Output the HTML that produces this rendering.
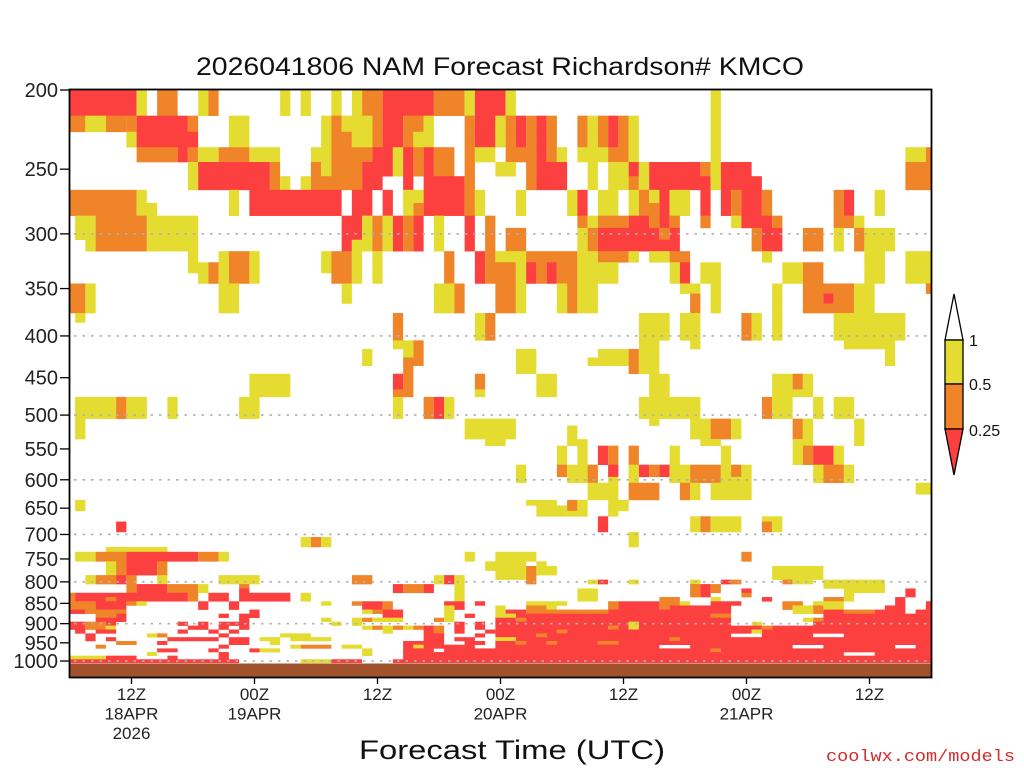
<!DOCTYPE html>
<html><head><meta charset="utf-8"><title>NAM Richardson# KMCO</title>
<style>html,body{margin:0;padding:0;background:#fff;}svg{display:block;font-family:"Liberation Sans",sans-serif;}</style></head>
<body>
<svg id="chart" width="1024" height="768" viewBox="0 0 1024 768" xmlns="http://www.w3.org/2000/svg">
<rect x="0" y="0" width="1024" height="768" fill="#fff"/>
<text x="500" y="75" font-size="25" textLength="608" lengthAdjust="spacingAndGlyphs" text-anchor="middle" fill="#111">2026041806 NAM Forecast Richardson# KMCO</text>
<g id="cells"></g>
<g id="grid"></g>
<g id="axes"></g>
<text x="512" y="759" font-size="27" textLength="306" lengthAdjust="spacingAndGlyphs" text-anchor="middle" fill="#111">Forecast Time (UTC)</text>
<text x="1015" y="761" font-size="17" textLength="189" lengthAdjust="spacingAndGlyphs" text-anchor="end" fill="#d62b2b" font-family="Liberation Mono, monospace">coolwx.com/models</text>
<g>
<polygon points="945,340 954,294 963,340" fill="#fff" stroke="#000" stroke-width="1.3"/>
<rect x="945" y="340" width="18" height="44" fill="#e5dc31" stroke="#000" stroke-width="1.3"/>
<rect x="945" y="384" width="18" height="45" fill="#ef8428" stroke="#000" stroke-width="1.3"/>
<polygon points="945,429 963,429 954,475" fill="#fc3f3f" stroke="#000" stroke-width="1.3"/>
<text x="969" y="346" font-size="16" fill="#111">1</text>
<text x="969" y="390" font-size="16" fill="#111">0.5</text>
<text x="969" y="436" font-size="16" fill="#111">0.25</text>
</g>
</svg>
<script>
// ---- data ----
const startHour = 6;           // first column = 06Z 18APR
const numCols = 85;            // hourly columns
const yTickLabels = [200,250,300,350,400,450,500,550,600,650,700,750,800,850,900,950,1000];
const gridLevels = [300,400,500,600,700,800,900,1000];
const xTickHours = [12,24,36,48,60,72,84];
const xTickLine1 = ["12Z","00Z","12Z","00Z","12Z","00Z","12Z"];
const xTickLine2 = ["18APR","19APR","","20APR","","21APR",""];
const xTickLine3 = ["2026","","","","","",""];
// rows: [pressure, [[colStart, colEnd, Ri], ...]]
const rows = [
[200,[[0,6,.1],[7,7,.7],[9,10,.35],[13,13,.7],[14,14,.35],[21,21,.7],[23,23,.7],[26,26,.7],[28,28,.7],[29,30,.35],[31,35,.1],[36,38,.35],[39,39,.7],[40,42,.1],[43,43,.7],[63,63,.7]]],
[210,[[0,6,.1],[7,7,.7],[9,10,.35],[13,13,.7],[14,14,.35],[21,21,.7],[23,23,.7],[26,26,.7],[28,28,.7],[29,30,.35],[31,35,.1],[36,38,.35],[39,39,.7],[40,42,.1],[43,43,.7],[63,63,.7]]],
[220,[[0,1,.35],[2,3,.7],[4,5,.35],[6,6,.35],[7,11,.1],[12,12,.35],[16,17,.7],[25,25,.7],[26,26,.35],[27,29,.7],[30,30,.35],[31,32,.1],[33,34,.35],[35,35,.7],[39,39,.35],[40,41,.1],[42,42,.7],[43,43,.35],[44,44,.1],[45,45,.35],[46,46,.1],[47,47,.35],[50,50,.35],[51,51,.7],[52,52,.35],[53,53,.1],[54,54,.35],[55,55,.7],[63,63,.7]]],
[230,[[6,6,.7],[7,12,.1],[16,17,.7],[25,25,.7],[26,27,.35],[28,29,.7],[30,30,.35],[31,32,.1],[33,33,.35],[34,35,.7],[39,39,.35],[40,41,.1],[42,42,.7],[43,43,.35],[44,44,.1],[45,45,.35],[46,46,.1],[47,47,.35],[50,50,.35],[51,51,.7],[52,52,.35],[53,53,.1],[54,54,.35],[55,55,.7],[63,63,.7]]],
[240,[[7,10,.35],[11,11,.1],[12,12,.35],[13,14,.7],[15,17,.35],[18,20,.7],[24,25,.7],[26,29,.35],[30,31,.1],[32,32,.7],[33,33,.1],[34,34,.35],[35,35,.1],[36,37,.35],[39,39,.35],[40,41,.7],[43,45,.35],[46,46,.1],[47,47,.35],[48,48,.7],[50,52,.7],[53,54,.35],[55,55,.7],[63,63,.7],[82,83,.7],[84,84,.35]]],
[250,[[12,12,.7],[13,19,.1],[20,20,.35],[24,24,.35],[25,25,.7],[26,28,.35],[29,31,.1],[32,32,.7],[33,33,.1],[34,34,.35],[35,35,.1],[36,37,.35],[39,39,.35],[42,43,.7],[45,45,.35],[46,48,.1],[51,51,.7],[53,54,.7],[55,55,.1],[56,56,.7],[57,61,.1],[62,62,.35],[63,63,.7],[64,66,.1],[82,84,.35]]],
[260,[[12,12,.7],[13,19,.1],[20,20,.35],[21,21,.7],[23,23,.7],[24,28,.35],[29,30,.1],[33,33,.1],[35,38,.1],[39,39,.35],[45,45,.35],[46,48,.1],[51,51,.7],[53,54,.7],[55,55,.35],[56,56,.7],[57,62,.1],[63,63,.7],[64,67,.1],[82,84,.35]]],
[270,[[0,6,.35],[7,7,.7],[16,16,.7],[18,26,.1],[28,29,.1],[31,31,.1],[33,34,.7],[35,38,.1],[39,39,.35],[40,40,.7],[44,44,.7],[49,49,.7],[50,50,.1],[52,53,.7],[55,55,.7],[56,56,.35],[57,57,.7],[58,58,.1],[59,60,.7],[62,62,.1],[64,64,.1],[65,65,.35],[66,67,.1],[68,68,.35],[75,75,.35],[76,76,.1],[79,79,.7]]],
[280,[[0,6,.35],[7,8,.7],[16,16,.7],[18,26,.1],[28,29,.1],[31,31,.1],[33,33,.7],[34,34,.35],[35,38,.1],[39,39,.35],[40,40,.7],[44,44,.7],[49,49,.7],[50,50,.1],[52,53,.7],[55,55,.7],[56,57,.35],[58,58,.1],[59,60,.7],[62,62,.1],[64,64,.1],[65,65,.35],[66,67,.1],[68,68,.35],[75,75,.35],[76,76,.1],[79,79,.7]]],
[290,[[1,2,.7],[3,7,.35],[8,12,.7],[27,28,.1],[29,29,.7],[30,30,.35],[31,31,.7],[32,32,.1],[33,33,.35],[34,34,.1],[36,36,.7],[39,39,.1],[41,41,.35],[50,50,.35],[51,51,.7],[52,54,.35],[55,56,.1],[57,57,.35],[58,58,.1],[59,59,.35],[62,62,.35],[65,65,.7],[66,68,.1],[69,69,.35],[75,76,.35],[77,77,.7]]],
[300,[[1,2,.7],[3,7,.35],[8,12,.7],[27,28,.1],[29,29,.7],[30,30,.35],[31,31,.7],[32,32,.1],[33,33,.35],[34,34,.1],[36,36,.7],[39,39,.1],[41,41,.35],[43,44,.35],[50,50,.7],[51,51,.35],[52,57,.1],[58,58,.35],[59,59,.1],[67,67,.35],[68,69,.1],[72,73,.35],[75,75,.7],[77,77,.35],[78,80,.7]]],
[310,[[2,2,.7],[3,7,.35],[8,12,.7],[27,27,.1],[28,29,.7],[30,30,.35],[31,31,.7],[32,32,.1],[33,33,.35],[34,34,.1],[36,36,.7],[39,39,.1],[41,41,.35],[43,44,.35],[50,50,.7],[51,51,.35],[52,59,.1],[67,67,.35],[68,69,.1],[72,73,.35],[75,75,.7],[77,77,.35],[78,80,.7]]],
[320,[[12,12,.7],[15,15,.7],[16,17,.35],[18,18,.7],[25,25,.7],[26,27,.35],[28,28,.7],[30,30,.7],[37,37,.35],[40,40,.1],[41,41,.35],[42,44,.7],[45,49,.35],[50,51,.7],[52,54,.35],[55,55,.7],[57,58,.7],[59,60,.35],[68,68,.7],[78,79,.7],[82,84,.7]]],
[330,[[12,13,.7],[14,14,.35],[15,15,.7],[16,17,.35],[18,18,.7],[25,25,.7],[26,27,.35],[28,28,.7],[30,30,.7],[37,37,.35],[40,40,.1],[41,43,.35],[44,44,.7],[45,45,.1],[46,46,.35],[47,47,.1],[48,49,.35],[50,53,.7],[59,59,.7],[60,60,.1],[62,63,.7],[70,71,.7],[72,73,.35],[78,79,.7],[82,84,.7]]],
[340,[[13,13,.7],[14,14,.35],[15,15,.7],[16,17,.35],[18,18,.7],[26,27,.35],[28,28,.7],[30,30,.7],[37,37,.35],[40,40,.1],[41,43,.35],[44,44,.7],[45,45,.1],[46,46,.35],[47,47,.1],[48,49,.35],[50,53,.7],[59,59,.7],[60,60,.1],[62,63,.7],[70,71,.7],[72,73,.35],[78,79,.7],[82,84,.7]]],
[350,[[0,1,.35],[2,2,.7],[15,16,.7],[27,27,.7],[36,37,.7],[38,38,.35],[42,43,.35],[44,44,.7],[48,48,.7],[49,49,.35],[50,51,.7],[60,61,.7],[63,63,.7],[69,69,.7],[72,76,.35],[77,78,.7],[84,84,.35]]],
[360,[[0,1,.35],[2,2,.7],[15,16,.7],[27,27,.7],[36,37,.7],[38,38,.35],[42,43,.35],[44,44,.7],[48,48,.7],[49,49,.35],[50,51,.7],[61,61,.35],[63,63,.7],[69,69,.7],[72,73,.35],[74,74,.1],[75,76,.35],[77,78,.7]]],
[370,[[0,1,.35],[2,2,.7],[15,16,.7],[36,37,.7],[38,38,.35],[42,43,.35],[44,44,.7],[48,48,.7],[49,49,.35],[50,51,.7],[61,61,.35],[63,63,.7],[69,69,.7],[72,76,.35],[77,78,.7]]],
[380,[[1,1,.7],[32,32,.35],[40,40,.7],[41,41,.35],[56,58,.7],[60,61,.7],[66,66,.35],[67,67,.7],[69,69,.7],[75,81,.7]]],
[390,[[32,32,.35],[40,40,.7],[41,41,.35],[56,58,.7],[60,61,.7],[66,66,.35],[67,67,.7],[69,69,.7],[75,81,.7]]],
[400,[[32,32,.35],[40,40,.7],[41,41,.35],[56,58,.7],[60,61,.7],[66,66,.35],[67,67,.7],[69,69,.7],[75,81,.7]]],
[410,[[32,33,.7],[34,34,.35],[56,57,.7],[61,61,.7],[76,80,.7]]],
[420,[[29,29,.7],[33,33,.7],[34,34,.35],[44,45,.7],[52,54,.7],[55,55,.35],[56,57,.7],[80,80,.7]]],
[430,[[29,29,.7],[33,34,.35],[44,45,.7],[51,54,.7],[55,55,.35],[56,57,.7],[80,80,.7]]],
[440,[[33,33,.35],[44,45,.7],[55,55,.35],[56,57,.7]]],
[450,[[18,21,.7],[32,32,.1],[33,33,.35],[40,40,.35],[46,47,.7],[57,58,.7],[69,70,.7],[71,71,.35],[72,72,.7]]],
[460,[[18,21,.7],[32,32,.1],[33,33,.35],[40,40,.35],[46,47,.7],[57,58,.7],[69,70,.7],[71,71,.35],[72,72,.7]]],
[470,[[18,21,.7],[32,33,.35],[40,40,.7],[46,47,.7],[57,58,.7],[69,72,.7]]],
[480,[[1,4,.7],[5,5,.35],[6,7,.7],[10,10,.7],[17,18,.7],[32,32,.7],[35,35,.35],[36,36,.1],[37,37,.7],[56,61,.7],[68,68,.35],[69,70,.7],[73,73,.7],[75,76,.7]]],
[490,[[1,4,.7],[5,5,.35],[6,7,.7],[10,10,.7],[17,18,.7],[32,32,.7],[35,35,.35],[36,36,.1],[37,37,.7],[56,61,.7],[68,68,.35],[69,70,.7],[73,73,.7],[75,76,.7]]],
[500,[[1,4,.7],[5,5,.35],[6,7,.7],[10,10,.7],[17,18,.7],[32,32,.7],[35,35,.35],[36,36,.1],[37,37,.7],[56,61,.7],[68,68,.35],[69,70,.7],[73,73,.7],[75,76,.7]]],
[510,[[1,1,.7],[39,43,.7],[57,57,.7],[61,62,.7],[63,64,.35],[65,65,.7],[71,71,.35],[72,72,.7],[77,77,.7]]],
[520,[[1,1,.7],[39,43,.7],[49,49,.7],[61,62,.7],[63,64,.35],[65,65,.7],[71,71,.35],[72,72,.7],[77,77,.7]]],
[530,[[1,1,.7],[39,43,.7],[49,49,.7],[61,62,.7],[63,64,.35],[65,65,.7],[71,71,.35],[72,72,.7],[77,77,.7]]],
[540,[[41,42,.7],[49,50,.7],[62,63,.7],[71,72,.7],[77,77,.7]]],
[550,[[48,48,.7],[50,50,.7],[52,52,.1],[53,53,.35],[55,55,.35],[59,59,.7],[64,64,.7],[71,71,.7],[72,72,.35],[73,74,.1],[75,75,.7]]],
[560,[[48,48,.7],[50,50,.7],[52,52,.1],[53,53,.35],[55,55,.35],[59,59,.7],[64,64,.7],[71,71,.7],[72,72,.35],[73,74,.1],[75,75,.7]]],
[570,[[48,48,.7],[50,50,.7],[52,52,.1],[53,53,.35],[55,55,.35],[59,59,.7],[64,64,.7],[71,71,.7],[72,72,.35],[73,74,.1],[75,75,.7]]],
[580,[[44,44,.7],[48,48,.35],[49,50,.7],[51,51,.35],[53,53,.1],[55,55,.7],[56,56,.1],[57,57,.35],[58,58,.1],[59,60,.7],[61,63,.35],[64,64,.7],[65,65,.35],[66,66,.7],[73,73,.7],[74,75,.35],[76,76,.7]]],
[590,[[44,44,.7],[48,48,.35],[49,50,.7],[51,51,.35],[53,53,.1],[55,55,.7],[56,56,.1],[57,57,.35],[58,58,.1],[59,60,.7],[61,63,.35],[64,64,.7],[65,65,.35],[66,66,.7],[73,73,.7],[74,75,.35],[76,76,.7]]],
[600,[[44,44,.7],[49,50,.7],[51,51,.35],[53,53,.7],[55,55,.7],[59,60,.7],[61,63,.35],[64,66,.7],[73,73,.7],[74,75,.35],[76,76,.7]]],
[610,[[51,53,.7],[55,57,.35],[60,60,.35],[61,61,.7],[63,66,.7],[83,84,.7]]],
[620,[[51,53,.7],[55,57,.35],[60,60,.35],[61,61,.7],[63,66,.7],[83,84,.7]]],
[630,[[51,53,.7],[55,57,.35],[60,60,.35],[61,61,.7],[63,66,.7]]],
[640,[[1,1,.7],[45,47,.7],[49,49,.35],[50,50,.7],[53,54,.7]]],
[650,[[1,1,.7],[46,48,.7],[49,49,.35],[50,50,.7],[53,54,.7]]],
[660,[[46,48,.7],[49,50,.7],[53,53,.7]]],
[670,[[52,52,.1],[61,61,.7],[62,62,.35],[63,65,.7],[68,69,.7]]],
[680,[[5,5,.1],[52,52,.1],[61,61,.7],[62,62,.35],[63,65,.7],[68,68,.35],[69,69,.7]]],
[690,[[5,5,.1],[52,52,.1],[61,61,.7],[62,62,.35],[63,65,.7],[68,68,.35],[69,69,.7]]],
[700,[[55,55,.7]]],
[710,[[23,23,.7],[24,24,.35],[25,25,.7],[55,55,.7]]],
[720,[[23,23,.7],[24,24,.35],[25,25,.7],[55,55,.7]]],
[730,[[4,9,.7]]],
[740,[[1,2,.7],[3,5,.35],[6,12,.1],[13,14,.35],[15,15,.7],[39,39,.7],[42,45,.7],[66,66,.35]]],
[750,[[1,2,.7],[3,5,.35],[6,12,.1],[13,14,.35],[15,15,.7],[39,39,.7],[42,45,.7],[66,66,.35]]],
[760,[[4,4,.7],[5,5,.35],[6,8,.1],[9,9,.35],[41,44,.7],[46,46,.7]]],
[770,[[4,4,.7],[5,5,.35],[6,8,.1],[9,9,.35],[41,44,.7],[45,45,.35],[46,47,.7],[69,73,.7]]],
[780,[[4,4,.7],[5,5,.35],[6,8,.1],[9,9,.35],[42,44,.7],[45,45,.35],[46,47,.7],[69,73,.7]]],
[790,[[2,2,.7],[3,4,.35],[5,5,.1],[6,6,.35],[9,9,.7],[15,18,.7],[28,29,.35],[36,36,.7],[37,37,.1],[38,38,.7],[42,44,.7],[45,45,.35],[69,73,.7]]],
[800,[[2,2,.7],[3,4,.35],[5,5,.1],[6,6,.35],[9,9,.7],[15,18,.7],[28,29,.35],[36,36,.7],[37,37,.1],[38,38,.7],[45,45,.35],[51,51,.7],[52,52,.1],[55,55,.7],[61,61,.7],[64,64,.1],[65,65,.35],[70,70,.35],[71,72,.7],[74,79,.7]]],
[810,[[6,6,.35],[7,9,.1],[10,12,.35],[13,13,.7],[17,17,.35],[32,32,.1],[33,34,.35],[35,35,.1],[38,38,.7],[61,61,.35],[62,62,.1],[63,63,.35],[74,79,.7]]],
[820,[[6,6,.35],[7,9,.1],[10,12,.35],[13,13,.7],[17,17,.1],[32,32,.1],[33,34,.35],[35,35,.1],[38,38,.7],[50,51,.7],[61,61,.35],[62,62,.1],[63,63,.35],[66,66,.1],[76,79,.7],[82,82,.1]]],
[830,[[0,0,.35],[1,11,.1],[12,12,.35],[14,15,.1],[17,21,.1],[23,23,.7],[38,38,.7],[50,51,.7],[61,61,.35],[62,62,.1],[66,66,.35],[76,76,.7],[82,82,.1]]],
[840,[[0,0,.35],[1,3,.1],[4,4,.35],[5,11,.1],[12,12,.35],[14,15,.1],[17,21,.1],[23,23,.7],[38,38,.7],[50,51,.7],[58,59,.35],[63,63,.7],[68,68,.1],[74,75,.35],[76,76,.7],[81,81,.1]]],
[850,[[0,2,.35],[3,5,.1],[6,6,.35],[7,7,.7],[13,13,.1],[16,16,.1],[25,25,.7],[28,28,.35],[29,30,.1],[31,31,.35],[37,38,.1],[40,40,.1],[45,48,.7],[53,53,.35],[54,57,.1],[58,59,.35],[60,60,.7],[63,65,.1],[70,71,.35],[73,75,.7],[81,81,.1],[84,84,.1]]],
[860,[[0,2,.35],[3,5,.1],[13,13,.1],[16,16,.1],[29,30,.1],[31,31,.35],[37,37,.7],[38,38,.1],[42,42,.7],[45,46,.35],[47,47,.7],[53,53,.35],[54,57,.1],[58,58,.35],[59,64,.1],[70,70,.35],[71,72,.7],[73,73,.35],[74,75,.7],[80,81,.1],[84,84,.1]]],
[870,[[0,1,.1],[2,5,.35],[18,18,.1],[29,29,.7],[30,30,.35],[31,32,.1],[37,37,.7],[42,42,.7],[43,44,.1],[45,52,.35],[53,64,.1],[71,72,.7],[73,73,.35],[74,75,.1],[76,78,.35],[79,81,.1],[83,84,.1]]],
[880,[[3,4,.35],[5,5,.1],[15,15,.1],[17,18,.1],[31,32,.1],[37,37,.7],[39,39,.1],[42,43,.7],[44,62,.1],[63,64,.35],[74,84,.1]]],
[890,[[3,5,.1],[17,17,.1],[25,25,.7],[28,28,.7],[29,29,.35],[30,32,.7],[36,36,.35],[37,37,.7],[42,43,.1],[44,44,.35],[45,64,.1],[72,72,.7],[73,73,.35],[74,84,.1]]],
[900,[[0,1,.1],[2,3,.35],[4,4,.1],[11,11,.1],[13,13,.1],[15,17,.1],[26,26,.7],[28,28,.7],[38,38,.1],[40,40,.1],[42,54,.1],[55,55,.7],[56,64,.1],[67,67,.7],[73,84,.1]]],
[910,[[0,1,.1],[2,3,.35],[4,4,.7],[12,13,.1],[15,15,.1],[17,17,.1],[29,29,.7],[30,30,.35],[31,31,.7],[32,32,.35],[33,33,.7],[34,34,.35],[35,35,.1],[36,36,.35],[38,38,.1],[40,40,.1],[42,52,.1],[53,53,.35],[54,54,.1],[55,55,.7],[56,67,.1],[68,68,.35],[69,84,.1]]],
[920,[[1,1,.1],[3,4,.1],[11,11,.1],[14,14,.1],[16,16,.1],[31,31,.7],[35,35,.1],[36,36,.35],[38,38,.1],[41,41,.1],[42,47,.1],[48,48,.35],[49,66,.1],[67,67,.7],[68,84,.1]]],
[930,[[2,2,.1],[8,8,.7],[9,9,.35],[15,15,.1],[21,23,.7],[35,36,.1],[40,40,.1],[42,45,.1],[46,46,.35],[47,64,.1],[68,72,.1],[76,84,.1]]],
[940,[[2,2,.1],[4,4,.1],[10,14,.1],[16,17,.1],[19,20,.7],[22,25,.7],[35,36,.1],[38,39,.1],[42,43,.7],[44,58,.1],[59,59,.35],[60,84,.1]]],
[950,[[5,6,.35],[9,9,.1],[16,17,.1],[20,20,.7],[33,36,.1],[39,40,.1],[42,43,.1],[44,44,.35],[45,46,.1],[47,47,.35],[48,51,.1],[52,53,.35],[54,84,.1]]],
[960,[[3,3,.35],[15,15,.1],[22,22,.7],[23,25,.35],[27,28,.7],[33,33,.1],[34,34,.7],[35,39,.1],[42,57,.1],[61,70,.1],[74,80,.1],[83,84,.1]]],
[970,[[9,10,.1],[14,14,.1],[18,18,.1],[19,20,.7],[29,29,.7],[33,35,.1],[37,62,.1],[63,63,.35],[64,84,.1]]],
[980,[[8,8,.7],[15,15,.1],[29,29,.7],[33,75,.1],[79,84,.1]]],
[990,[[0,3,.7],[4,6,.1],[10,10,.1],[15,15,.1],[33,84,.1]]],
[1000,[[0,16,.1],[23,25,.7],[26,28,.1],[32,84,.1]]]
];
// ---- scales ----
const plotL = 70, plotR = 931, plotT = 90, plotB = 677, surfaceTop = 663.5;
function xScale(col){ return plotL + col * 10.25; }
function yScale(p){ return plotT + 354.8 * Math.log(p / 200); }
function riColor(ri){ if (ri < 0.25) return "#fc3f3f"; if (ri < 0.5) return "#ef8428"; if (ri < 1) return "#e5dc31"; return "#ffffff"; }
const NS = "http://www.w3.org/2000/svg";
const cellsG = document.getElementById("cells");
const gridG = document.getElementById("grid");
const axesG = document.getElementById("axes");
function mk(tag, attrs, parent){ const e = document.createElementNS(NS, tag); for (const k in attrs) e.setAttribute(k, attrs[k]); parent.appendChild(e); return e; }

const surf = mk("rect", {x: plotL, y: surfaceTop, width: plotR - plotL, height: plotB - surfaceTop, fill: "#a0522d"}, cellsG);



rows.forEach(function(row){
  const p = row[0];
  const y0 = Math.max(plotT, yScale(p - 5));
  const y1 = Math.min(surfaceTop, yScale(p + 5));
  row[1].forEach(function(run){
    const x0 = Math.max(plotL, xScale(run[0] - 0.5));
    const x1 = Math.min(plotR, xScale(run[1] + 0.5));
    const r = mk("rect", {x: x0.toFixed(2), y: y0.toFixed(2), width: (x1 - x0).toFixed(2), height: (y1 - y0 + 0.3).toFixed(2), fill: riColor(run[2])}, cellsG);
    
    
  });
});

gridLevels.forEach(function(p){
  const y = yScale(p);
  const l = mk("line", {x1: plotL + 4, x2: plotR, y1: y, y2: y, stroke: "#b0b0b0", "stroke-width": 1.6, "stroke-dasharray": "2.5 6"}, gridG);
  
  
});

const frame = mk("rect", {x: plotL - 0.5, y: plotT - 0.5, width: plotR - plotL + 1, height: plotB - plotT + 1, fill: "none", stroke: "#000", "stroke-width": 1.8}, axesG);



yTickLabels.forEach(function(p){
  const y = yScale(p);
  const t = mk("line", {x1: plotL - 10, x2: plotL, y1: y, y2: y, stroke: "#000", "stroke-width": 1.3}, axesG);
  
  
  const lab = mk("text", {x: plotL - 12, y: y + 7, "font-size": 20, "text-anchor": "end", fill: "#222"}, axesG);
  lab.textContent = String(p);
  
  
});

xTickHours.forEach(function(h, i){
  const x = xScale(h - startHour);
  const t = mk("line", {x1: x, x2: x, y1: plotB, y2: plotB + 7, stroke: "#000", "stroke-width": 1.3}, axesG);
  
  
  [xTickLine1[i], xTickLine2[i], xTickLine3[i]].forEach(function(s, j){
    if (!s) return;
    const lab = mk("text", {x: x, y: 700 + j * 19.5, "font-size": 17, "text-anchor": "middle", fill: "#222"}, axesG);
    lab.textContent = s;
    
    
  });
});
</script>
</body></html>
